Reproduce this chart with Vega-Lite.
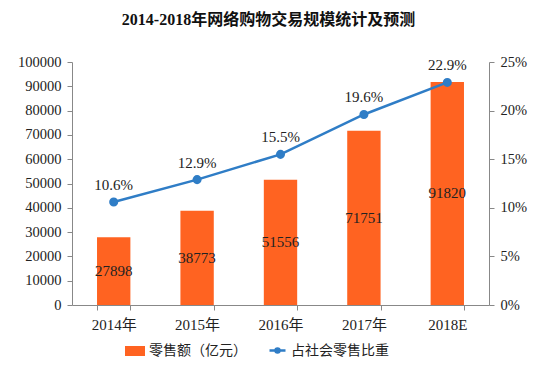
{
  "$schema": "https://vega.github.io/schema/vega-lite/v6.json",
  "width": 417,
  "height": 243,
  "autosize": {"type": "none"},
  "padding": {"left": 72, "top": 62, "right": 48, "bottom": 67},
  "background": "white",
  "title": {
    "text": "2014-2018年网络购物交易规模统计及预测",
    "font": "Liberation Serif, Noto Sans CJK SC",
    "fontSize": 16,
    "fontWeight": "bold",
    "color": "#111111",
    "anchor": "middle",
    "dx": -12,
    "offset": 26
  },
  "data": {
    "values": [
      {"year": "2014年", "sales": 27898, "share": 0.106, "shareLabel": "10.6%"},
      {"year": "2015年", "sales": 38773, "share": 0.129, "shareLabel": "12.9%"},
      {"year": "2016年", "sales": 51556, "share": 0.155, "shareLabel": "15.5%"},
      {"year": "2017年", "sales": 71751, "share": 0.196, "shareLabel": "19.6%"},
      {"year": "2018E", "sales": 91820, "share": 0.229, "shareLabel": "22.9%"}
    ]
  },
  "config": {
    "view": {"stroke": null},
    "font": "Liberation Serif, Noto Sans CJK SC",
    "axis": {
      "labelFont": "Liberation Serif, Noto Sans CJK SC",
      "labelFontSize": 14.5,
      "labelColor": "#222222",
      "domainColor": "#888888",
      "tickColor": "#888888",
      "grid": false,
      "labelOverlap": false,
      "title": null
    },
    "legend": {
      "labelFont": "Noto Sans CJK SC",
      "labelFontSize": 14,
      "labelColor": "#222222",
      "title": null
    }
  },
  "encoding": {
    "x": {
      "field": "year",
      "type": "nominal",
      "sort": null,
      "scale": {"paddingInner": 0.6, "paddingOuter": 0.3},
      "axis": {"labelAngle": 0, "tickBand": "extent", "labelPadding": 7, "tickSize": 5, "labelFontSize": 15}
    }
  },
  "layer": [
    {
      "encoding": {
        "y": {
          "field": "sales",
          "type": "quantitative",
          "scale": {"domain": [0, 100000]},
          "axis": {"values": [0,10000,20000,30000,40000,50000,60000,70000,80000,90000,100000], "format": "d", "labelPadding": 6, "tickSize": 5}
        }
      },
      "layer": [
        {
          "mark": {"type": "bar", "color": "#FF6321"},
          "encoding": {
            "color": {
              "datum": "零售额（亿元）",
              "scale": {"range": ["#FF6321"]},
              "legend": {
                "orient": "none",
                "legendX": 53,
                "legendY": 279,
                "symbolType": "M-1,-0.5H1V0.5H-1Z",
                "symbolSize": 400,
                "symbolStrokeWidth": 0
              }
            }
          }
        },
        {
          "mark": {"type": "text", "color": "#222222", "fontSize": 15, "font": "Liberation Serif"},
          "encoding": {
            "y": {"field": "sales", "type": "quantitative", "stack": "zero", "bandPosition": 0.5},
            "text": {"field": "sales", "type": "quantitative", "format": "d"}
          }
        }
      ]
    },
    {
      "encoding": {
        "y": {
          "field": "share",
          "type": "quantitative",
          "scale": {"domain": [0, 0.25]},
          "axis": {"orient": "right", "values": [0, 0.05, 0.1, 0.15, 0.2, 0.25], "format": ".0%", "labelPadding": 6, "tickSize": 5}
        }
      },
      "layer": [
        {
          "mark": {"type": "line", "color": "#2F7DC6", "strokeWidth": 2.5, "point": {"filled": true, "size": 50, "color": "#2F7DC6"}},
          "encoding": {
            "stroke": {
              "datum": "占社会零售比重",
              "scale": {"range": ["#2F7DC6"]},
              "legend": {
                "orient": "none",
                "legendX": 196,
                "legendY": 279,
                "symbolType": "M-1,0H1M0.25,0A0.25,0.25,0,1,1,-0.25,0A0.25,0.25,0,1,1,0.25,0Z",
                "symbolSize": 256,
                "symbolStrokeWidth": 2.5,
                "symbolFillColor": "#2F7DC6"
              }
            }
          }
        },
        {
          "mark": {"type": "text", "color": "#222222", "fontSize": 15, "font": "Liberation Serif", "dy": -17},
          "encoding": {
            "text": {"field": "shareLabel"}
          }
        }
      ]
    }
  ],
  "resolve": {"scale": {"y": "independent", "color": "independent"}}
}
